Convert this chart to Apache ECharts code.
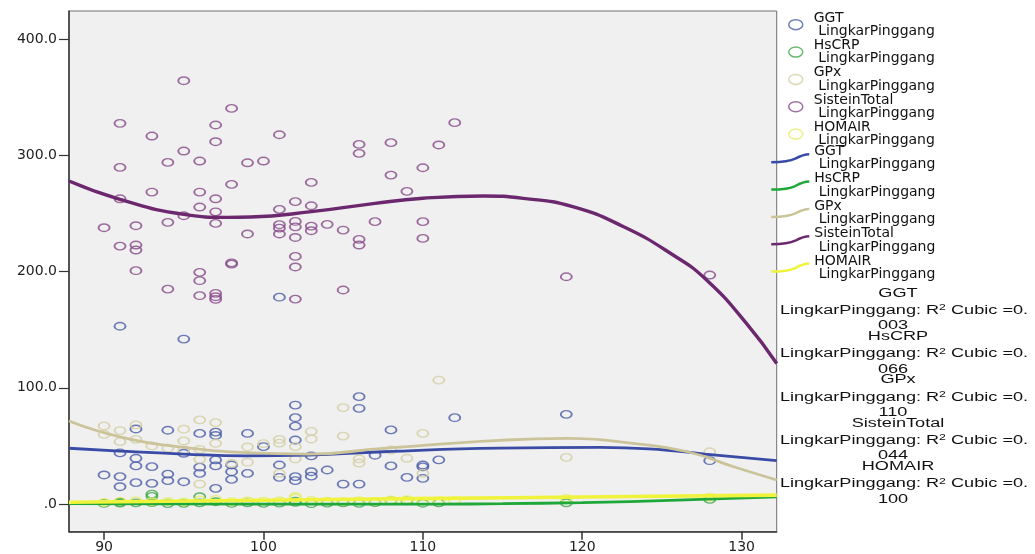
<!DOCTYPE html>
<html><head><meta charset="utf-8">
<script src="https://cdn.jsdelivr.net/npm/echarts@6/dist/echarts.min.js"></script>
<style>html,body{margin:0;padding:0;background:#fff}#c{width:1035px;height:554px}</style>
</head><body><div id="c"></div>
<script>
// ---------- data ----------
const seriesNames = ['GGT', 'HsCRP', 'GPx', 'SisteinTotal', 'HOMAIR'];
const xVarName = 'LingkarPinggang';
const r2Cubic = [0.003, 0.066, 0.110, 0.044, 0.100];
const xTicks = [90, 100, 110, 120, 130];
const xTickLabels = ['90', '100', '110', '120', '130'];
const yTicks = [0, 100, 200, 300, 400];
const yTickLabels = ['.0', '100.0', '200.0', '300.0', '400.0'];

const ggtPoints = [[90,25],[91,23.6],[91,14.9],[91,44],[91,153],[92,64.6],[92,39.4],[92,32.8],[92,18.4],
  [93,32.2],[93,17.8],[94,63.5],[94,25.8],[94,20.1],[95,19.2],[95,43.7],[95,142],[96,60.8],[96,31.7],[96,26.4],
  [97,61.9],[97,59],[97,38],[97,32.8],[97,13.5],[98,33.6],[98,27.8],[98,21.2],[99,60.8],[99,26.4],[100,49.4],
  [101,33.6],[101,23],[101,178],[102,85.2],[102,74.3],[102,67],[102,55.1],[102,23.6],[102,20.1],
  [103,41.4],[103,27.8],[103,24],[104,29.3],[105,17.2],[106,92.4],[106,82.4],[106,17.2],[107,42],
  [108,63.8],[108,32.8],[109,23],[110,33.6],[110,32],[110,22.1],[111,38],[112,74.3],[119,77.2],[128,37.3]];
const hscrpPoints = [[90,0.5],[91,0.8],[91,1.6],[92,1.0],[93,8.6],[93,6.6],[93,1.2],[94,0.4],[95,0.6],[96,6.3],
  [96,1.0],[97,2.0],[98,0.5],[99,1.0],[100,0.6],[101,0.8],[102,1.5],[102,2.5],[103,0.3],[104,0.8],[105,1.0],
  [106,0.6],[107,1.2],[108,3.0],[109,2.8],[110,0.7],[111,1.0],[119,1.1],[128,4.0]];
const gpxPoints = [[90,67.2],[90,60],[91,63.2],[91,53.7],[92,68.1],[92,55.7],[93,50],[94,48],[95,64.4],[95,54.3],
  [95,46.5],[96,72.4],[96,47],[96,38.5],[96,17.2],[97,70.1],[97,52.3],[98,35],[99,49.1],[99,36],[100,52],
  [101,55.7],[101,52.5],[101,26.4],[102,49.4],[102,38.9],[103,62.6],[103,56],[105,83],[105,58.5],[106,38.9],
  [106,35.3],[108,46.5],[109,39.4],[110,60.8],[110,26.4],[111,106.7],[119,40.2],[128,45]];
const sisteinPoints = [[90,237.8],[91,327.6],[91,289.7],[91,262.7],[91,222],[92,239.5],[92,222.9],[92,218.6],
  [92,200.8],[93,316.7],[93,268.5],[94,294],[94,242.4],[94,185],[95,364.3],[95,303.8],[95,248.1],
  [96,295.2],[96,268.5],[96,255.6],[96,199.4],[96,192.2],[96,179.3],
  [97,326.2],[97,311.8],[97,262.7],[97,251.5],[97,241.5],[97,181.3],[97,178.4],[97,176.2],
  [98,340.5],[98,275.1],[98,206.5],[98,207.5],[99,293.7],[99,232.4],[100,295.2],
  [101,317.8],[101,253.6],[101,240.4],[101,237.4],[101,232.4],
  [102,260.2],[102,243.2],[102,238.6],[102,229.4],[102,213.1],[102,204],[102,176.4],
  [103,276.8],[103,256.7],[103,239.2],[103,235.2],[104,240.7],[105,235.8],[105,184.2],
  [106,309.5],[106,301.8],[106,227.8],[106,222.9],[107,243],[108,311],[108,283.1],[109,269.1],
  [110,289.4],[110,243],[110,228.6],[111,309],[112,328.2],[119,195.6],[128,197.1]];
const homairPoints = [[90,1.5],[91,2.5],[92,3.0],[93,2.0],[94,2.2],[95,1.8],[96,3.5],[97,4.0],[98,2.0],[99,2.8],
  [100,2.5],[101,3.0],[102,5.2],[102,6.5],[103,3.2],[104,2.5],[105,2.0],[106,3.0],[107,2.2],[108,3.5],
  [109,3.8],[110,2.5],[111,2.8],[112,3.0],[119,4.9],[128,6.0]];

// fitted cubic curves
const ggtCurve = [[87.8,48],[91,45.5],[95,43],[98.9,41.5],[102.8,42.2],[107.5,45],[114.8,48.2],[121.1,48.8],
  [125.2,46.5],[127.7,43],[132.2,37.3]];
const hscrpCurve = [[87.8,0.3],[100,0],[111,0],[115,0.3],[120,1.3],[126,3.3],[132.2,6.2]];
const gpxCurve = [[87.8,71.5],[91,57.9],[95,48.8],[98.9,44.2],[102.8,43],[107.5,47.9],[114.8,54.8],[119,56.5],
  [123.2,52.2],[126.6,45],[129.5,32.1],[132.2,20.7]];
const sisteinCurve = [[87.8,278],[91,262.2],[95,249.3],[97.7,246.7],[99.2,247],[103,251.6],[107,258.8],
  [110,263.1],[113.8,265.1],[116.3,263.1],[119.4,255.9],[122.6,238.6],[125.7,214.3],[127.8,192.8],
  [130.3,155.5],[132.2,121]];
const homairCurve = [[87.8,1.5],[100,3.3],[111,4.9],[120,6.0],[132.2,7.7]];

const pointSets = [ggtPoints, hscrpPoints, gpxPoints, sisteinPoints, homairPoints];
const curveSets = [ggtCurve, hscrpCurve, gpxCurve, sisteinCurve, homairCurve];

// ---------- style ----------
const scatterColors = ['#4a5ca6', '#3fa64a', '#d3cea2', '#874a8a', '#e3ec6a'];
const lineColors = ['#3a4ba6', '#1fa83a', '#cbc49b', '#6c286e', '#f0f33c'];
const lineWidths = [2.8, 2.8, 2.8, 3.4, 3.6];
const ellipse = 'path://M0,3A4.5,3,0,1,1,9,3A4.5,3,0,1,1,0,3Z';
const legendEllipse = 'path://M0,0M24,10M4,5A7,5,0,1,1,18,5A7,5,0,1,1,4,5Z';
const legendWave = 'path://M0,8C12,8,18,7.5,24,4.5C30,1.2,34,0,38,0';

const scatterName = n => n + '\n ' + xVarName;
const lineName = n => n + '\n ' + xVarName + ' ';

const series = [];
seriesNames.forEach((n, i) => {
  series.push({
    type: 'scatter', name: scatterName(n), data: pointSets[i],
    symbol: ellipse, symbolSize: [11, 7.5], z: 2,
    itemStyle: {color: 'rgba(0,0,0,0)', borderColor: scatterColors[i], borderWidth: 1.6},
    emphasis: {disabled: true}
  });
});
seriesNames.forEach((n, i) => {
  series.push({
    type: 'line', name: lineName(n), data: curveSets[i], smooth: 0.5,
    showSymbol: false, symbol: 'none', z: 3,
    lineStyle: {color: lineColors[i], width: lineWidths[i]},
    itemStyle: {color: lineColors[i]},
    emphasis: {disabled: true}
  });
});

const legendText = {fontFamily: 'DejaVu Sans', fontSize: 14, lineHeight: 13.35, color: '#111'};

const graphics = [];
seriesNames.forEach((n, i) => {
  const base = 293.3 + 43.3 * i;
  const s = r2Cubic[i].toFixed(3);
  const head = s.slice(0, 2), tail = s.slice(2);
  const font = {fontFamily: 'Liberation Sans', fontSize: 12.5, fill: '#111'};
  graphics.push({type: 'text', x: 898, y: base, scaleX: 1.45, silent: true,
    style: Object.assign({text: n, align: 'center', verticalAlign: 'middle'}, font)});
  graphics.push({type: 'text', x: 904, y: base + 17.3, scaleX: 1.45, silent: true,
    style: {text: '{t|' + xVarName + ': R}{s|2}{t| Cubic =' + head + '}', align: 'center', verticalAlign: 'middle',
      rich: {t: Object.assign({lineHeight: 14}, font),
             s: {fontFamily: 'Liberation Sans', fontSize: 8.5, fill: '#111', lineHeight: 14, verticalAlign: 'top'}}}});
  graphics.push({type: 'text', x: 893, y: base + 32.7, scaleX: 1.45, silent: true,
    style: Object.assign({text: tail, align: 'center', verticalAlign: 'middle'}, font)});
});

const chart = echarts.init(document.getElementById('c'), null, {renderer: 'canvas'});
chart.setOption({
  animation: false,
  backgroundColor: '#ffffff',
  textStyle: {fontFamily: 'DejaVu Sans'},
  grid: {left: 69, top: 11, width: 707.7, height: 520.7, show: true, backgroundColor: '#f0f0f0',
    borderColor: '#707070', borderWidth: 1, outerBoundsMode: 'none', containLabel: false},
  xAxis: {
    type: 'value', min: 87.8, max: 132.2,
    axisLine: {show: true, onZero: false, lineStyle: {color: '#333', width: 1.5}},
    axisTick: {show: true, length: 8, customValues: xTicks, lineStyle: {color: '#333', width: 1.5}},
    axisLabel: {customValues: xTicks, margin: 9, fontSize: 14, color: '#222', fontFamily: 'DejaVu Sans',
      formatter: v => { const k = xTicks.indexOf(v); return k >= 0 ? xTickLabels[k] : String(v); }},
    splitLine: {show: false}
  },
  yAxis: {
    type: 'value', min: -23.8, max: 424.3,
    axisLine: {show: true, onZero: false, lineStyle: {color: '#333', width: 1.5}},
    axisTick: {show: true, length: 10, customValues: yTicks, lineStyle: {color: '#333', width: 1.2}},
    axisLabel: {customValues: yTicks, margin: 12, fontSize: 14, color: '#222', fontFamily: 'DejaVu Sans',
      formatter: v => { const k = yTicks.indexOf(v); return k >= 0 ? yTickLabels[k] : String(v); }},
    splitLine: {show: false}
  },
  legend: [
    {orient: 'vertical', left: 784, top: 11, padding: 0, itemGap: 0, itemWidth: 24, itemHeight: 10,
      selectedMode: false, textStyle: legendText,
      data: seriesNames.map((n, i) => ({name: scatterName(n), icon: legendEllipse,
        itemStyle: {color: 'rgba(0,0,0,0)', borderColor: scatterColors[i], borderWidth: 1.5}}))},
    {orient: 'vertical', left: 770, top: 144.5, padding: 0, itemGap: 0, itemWidth: 38, itemHeight: 8,
      selectedMode: false, textStyle: legendText,
      data: seriesNames.map((n, i) => ({name: lineName(n), icon: legendWave,
        itemStyle: {color: 'rgba(0,0,0,0)', borderColor: lineColors[i], borderWidth: 2.5}}))}
  ],
  graphic: graphics,
  series: series
});
</script></body></html>
